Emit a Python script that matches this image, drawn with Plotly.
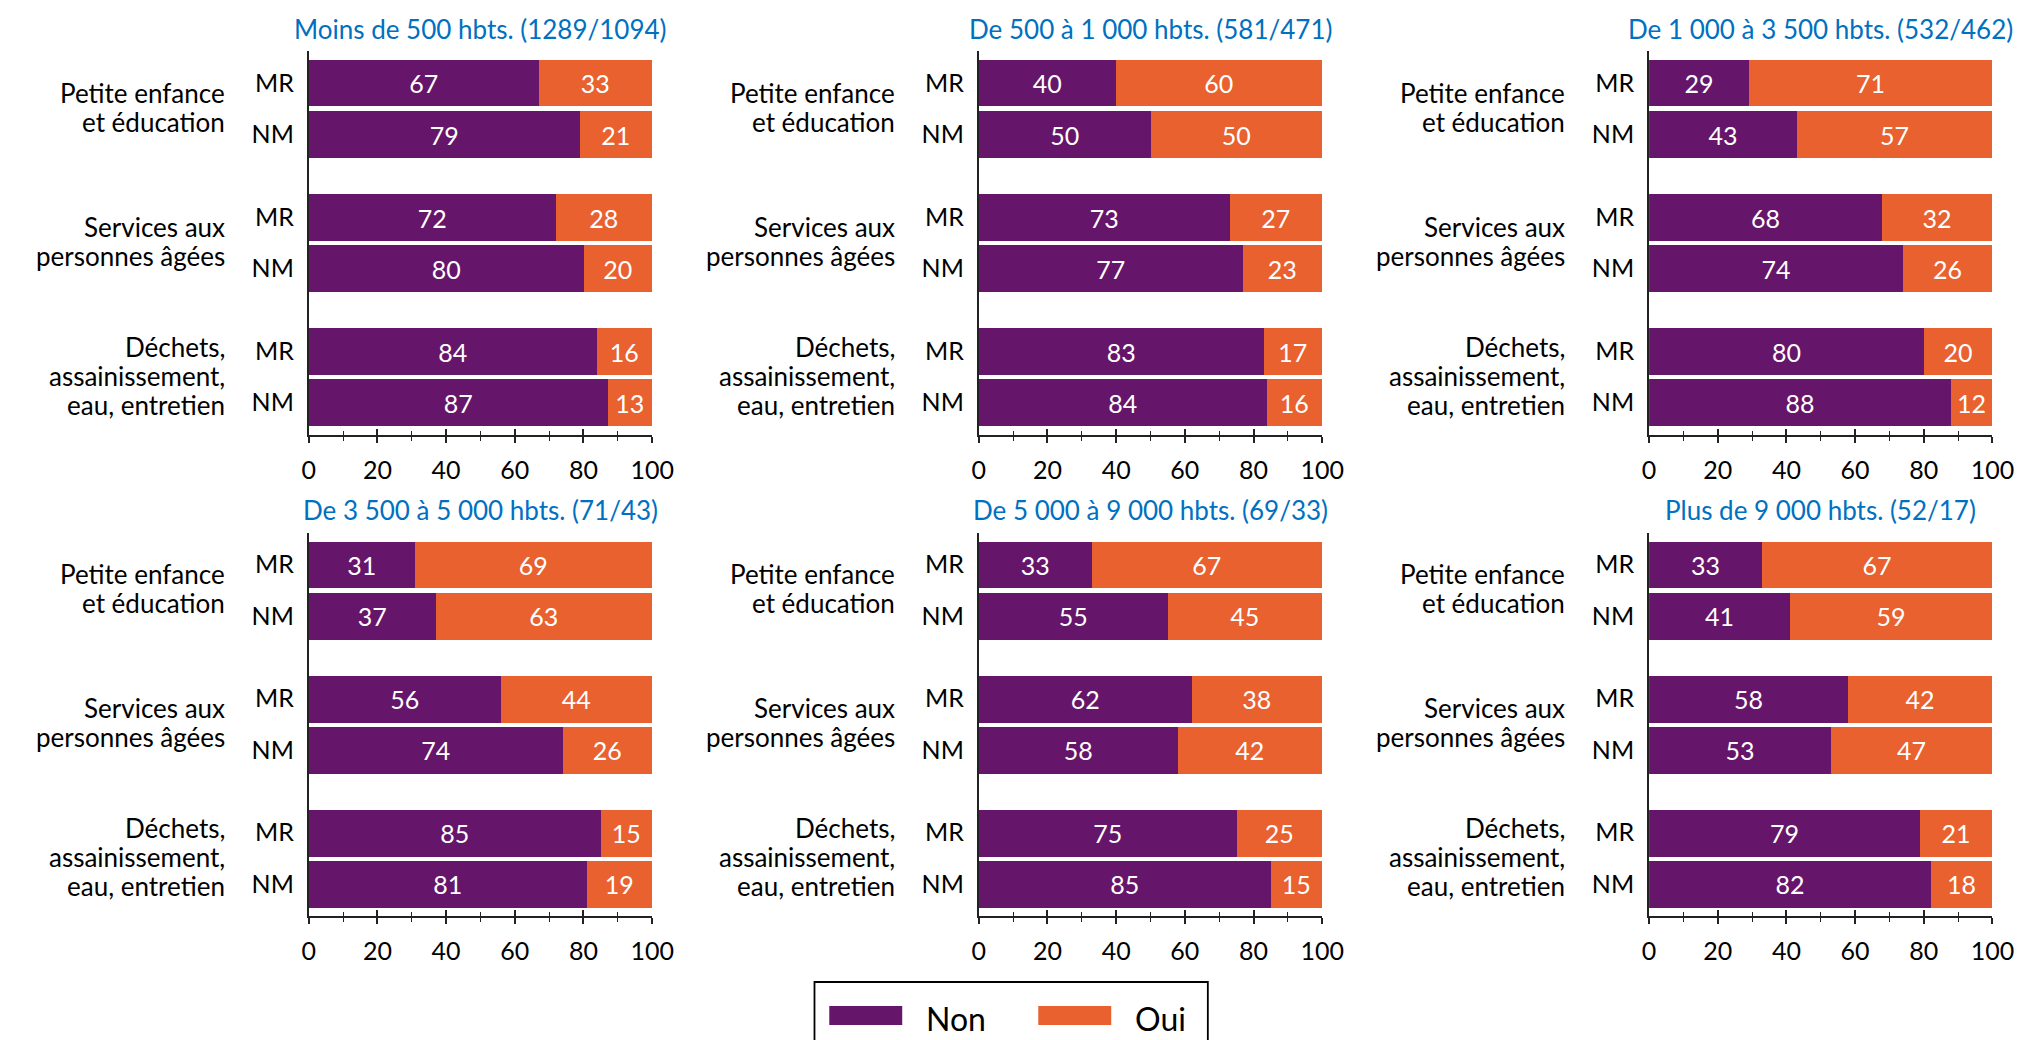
import plotly.graph_objects as go

# figure size in px (margins are zero so paper coords map straight to pixels)
W, H = 2044, 1040

panel_titles = [
    "Moins de 500 hbts. (1289/1094)",
    "De 500 à 1 000 hbts. (581/471)",
    "De 1 000 à 3 500 hbts. (532/462)",
    "De 3 500 à 5 000 hbts. (71/43)",
    "De 5 000 à 9 000 hbts. (69/33)",
    "Plus de 9 000 hbts. (52/17)",
]
categories = [
    ["Petite enfance", "et éducation"],
    ["Services aux", "personnes âgées"],
    ["Déchets,", "assainissement,", "eau, entretien"],
]
groups = ["MR", "NM"]
x_ticks = [0, 20, 40, 60, 80, 100]

# one list per panel, order: cat1 MR, cat1 NM, cat2 MR, cat2 NM, cat3 MR, cat3 NM
non_values = [
    [67, 79, 72, 80, 84, 87],
    [40, 50, 73, 77, 83, 84],
    [29, 43, 68, 74, 80, 88],
    [31, 37, 56, 74, 85, 81],
    [33, 55, 62, 58, 75, 85],
    [33, 41, 58, 53, 79, 82],
]
oui_values = [
    [33, 21, 28, 20, 16, 13],
    [60, 50, 27, 23, 17, 16],
    [71, 57, 32, 26, 20, 12],
    [69, 63, 44, 26, 15, 19],
    [67, 45, 38, 42, 25, 15],
    [67, 59, 42, 47, 21, 18],
]

PURPLE = "#65166A"
ORANGE = "#E8612F"
BLUE = "#0070C0"
FONT = "Lato"
FS = 25        # ticks and bar labels
FS_CAT = 26    # category labels
FS_TITLE = 26
LINE_H = 29    # px between lines of a category label

col_x0 = [298.0, 977.7, 1657.6]
plot_w = 348.3
row_top = [43.3, 524.5]
plot_h = 383.8
GROUP_STEP = 2.62  # distance between category groups, in bar pitches


def ax(kind, i):
    return kind if i == 1 else f"{kind}{i}"


fig = go.Figure()
ypos = [g * GROUP_STEP + s for g in range(len(categories)) for s in range(len(groups))]
ylab = [groups[s] for g in range(len(categories)) for s in range(len(groups))]

annotations = []
for k in range(6):
    r, c = divmod(k, 3)
    xa, ya = ax("x", k + 1), ax("y", k + 1)
    xo = ax("x", k + 7)
    dom_x = [col_x0[c] / W, (col_x0[c] + plot_w) / W]
    dom_y = [1 - (row_top[r] + plot_h) / H, 1 - row_top[r] / H]

    for name, vals, col in [("Non", non_values[k], PURPLE), ("Oui", oui_values[k], ORANGE)]:
        fig.add_trace(go.Bar(
            y=ypos, x=vals, orientation="h", name=name, width=0.91,
            marker=dict(color=col, line=dict(width=0)),
            text=[str(v) for v in vals], textposition="inside",
            insidetextanchor="middle", textangle=0, constraintext="none",
            textfont=dict(color="white", size=FS, family=FONT),
            showlegend=False, xaxis=xa, yaxis=ya,
        ))
    # empty trace so the overlay axis (inner half of the crossing ticks) is drawn
    fig.add_trace(go.Scatter(x=[], y=[], xaxis=xo, yaxis=ya, showlegend=False))

    fig.layout["xaxis" if k == 0 else f"xaxis{k + 1}"] = dict(
        domain=dom_x, anchor=ya, range=[0, 100], tickvals=x_ticks,
        ticks="outside", ticklen=6, tickwidth=1.5, tickcolor="#222",
        minor=dict(ticks="outside", ticklen=4, tickwidth=1.2, dtick=10, tick0=0, tickcolor="#222"),
        showline=True, linecolor="#222", linewidth=1.8,
        showgrid=False, zeroline=False, ticklabelstandoff=6,
        tickfont=dict(size=FS, family=FONT, color="black"), fixedrange=True,
    )
    fig.layout[f"xaxis{k + 7}"] = dict(
        overlaying=xa, anchor=ya, range=[0, 100], tickvals=x_ticks,
        ticks="inside", ticklen=6, tickwidth=1.5, tickcolor="#222",
        minor=dict(ticks="inside", ticklen=4, tickwidth=1.2, dtick=10, tick0=0, tickcolor="#222"),
        showticklabels=False, showline=False, showgrid=False, zeroline=False,
    )
    fig.layout["yaxis" if k == 0 else f"yaxis{k + 1}"] = dict(
        domain=dom_y, anchor=xa, range=[6.874, -0.63],
        tickvals=ypos, ticktext=ylab, ticks="", ticklabelstandoff=8,
        showline=True, linecolor="#222", linewidth=1.8,
        showgrid=False, zeroline=False,
        tickfont=dict(size=FS, family=FONT, color="black"), fixedrange=True,
    )

    annotations.append(dict(
        text=panel_titles[k], xref=f"{xa} domain", yref="paper",
        x=0.5, y=1 - (row_top[r] - 22.5) / H, xanchor="center", yanchor="middle",
        showarrow=False, font=dict(size=FS_TITLE, family=FONT, color=BLUE),
    ))
    for g, lines in enumerate(categories):
        n = len(lines)
        for i, line in enumerate(lines):
            annotations.append(dict(
                text=line, xref=f"{xa} domain", yref=ya,
                x=-83 / plot_w, y=g * GROUP_STEP + 0.5, xanchor="right", yanchor="middle",
                yshift=1.5 - (i - (n - 1) / 2) * LINE_H, showarrow=False,
                font=dict(size=FS_CAT, family=FONT, color="black"),
            ))

# legend drawn by hand: wide swatches in an open-bottom box
shapes = [
    dict(type="rect", xref="paper", yref="paper",
         x0=811 / W, x1=1210 / W, y0=1 - 1060 / H, y1=1 - 974 / H,
         line=dict(color="black", width=1.8), fillcolor="rgba(0,0,0,0)"),
]
for x0, col, label in [(826, PURPLE, "Non"), (1038, ORANGE, "Oui")]:
    shapes.append(dict(type="rect", xref="paper", yref="paper",
                       x0=x0 / W, x1=(x0 + 74) / W, y0=1 - 1017 / H, y1=1 - 998 / H,
                       line=dict(width=0), fillcolor=col))
    annotations.append(dict(
        text=label, xref="paper", yref="paper", x=(x0 + 96) / W, y=1 - 1010 / H,
        xanchor="left", yanchor="middle", showarrow=False,
        font=dict(size=32, family=FONT, color="black"),
    ))

fig.update_layout(
    width=W, height=H, barmode="stack", bargap=0,
    margin=dict(l=0, r=0, t=0, b=0),
    paper_bgcolor="white", plot_bgcolor="white",
    font=dict(family=FONT, size=FS, color="black"),
    annotations=annotations, shapes=shapes, showlegend=False,
)

fig.write_html("out.html")
